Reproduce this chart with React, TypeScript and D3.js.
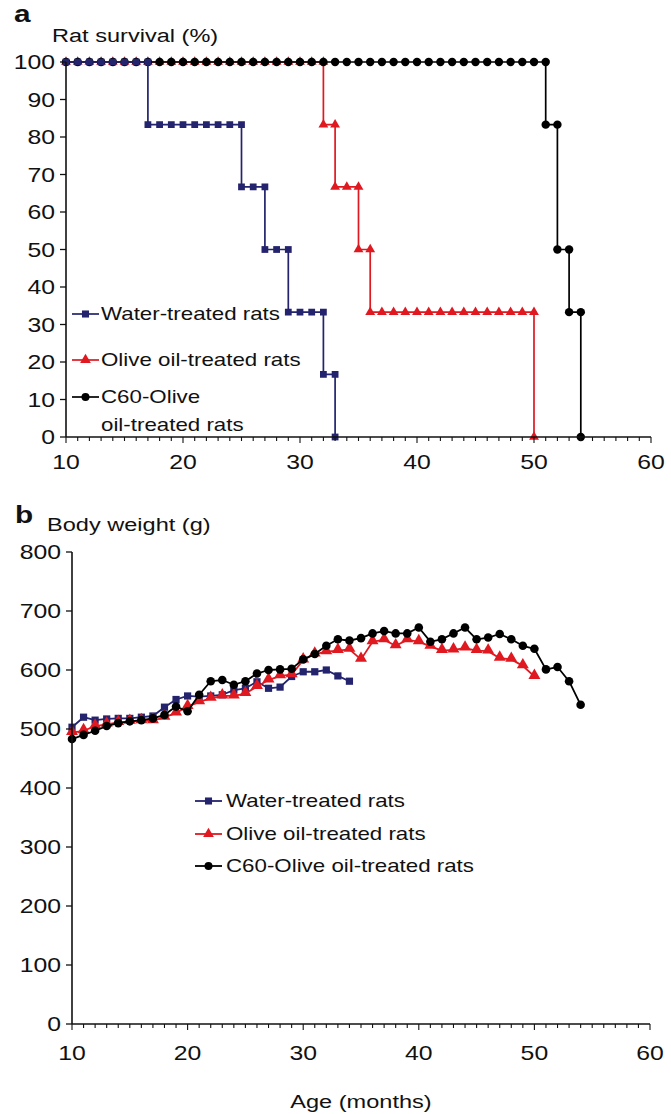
import React from "react";
import * as d3 from "d3";

// ---------- DATA ----------
// Panel a: survival (%) — step points (month, value)
const waterSurvMonths = [10, 11, 12, 13, 14, 15, 16, 17, 17, 18, 19, 20, 21, 22, 23, 24, 25, 25, 26, 27, 27, 28, 29, 29, 30, 31, 32, 32, 33, 33];
const waterSurvValues = [100, 100, 100, 100, 100, 100, 100, 100, 83.3, 83.3, 83.3, 83.3, 83.3, 83.3, 83.3, 83.3, 83.3, 66.7, 66.7, 66.7, 50, 50, 50, 33.3, 33.3, 33.3, 33.3, 16.7, 16.7, 0];

const oliveSurvMonths = [10, 11, 12, 13, 14, 15, 16, 17, 18, 19, 20, 21, 22, 23, 24, 25, 26, 27, 28, 29, 30, 31, 32, 32, 33, 33, 34, 35, 35, 36, 36, 37, 38, 39, 40, 41, 42, 43, 44, 45, 46, 47, 48, 49, 50, 50];
const oliveSurvValues = [100, 100, 100, 100, 100, 100, 100, 100, 100, 100, 100, 100, 100, 100, 100, 100, 100, 100, 100, 100, 100, 100, 100, 83.3, 83.3, 66.7, 66.7, 66.7, 50, 50, 33.3, 33.3, 33.3, 33.3, 33.3, 33.3, 33.3, 33.3, 33.3, 33.3, 33.3, 33.3, 33.3, 33.3, 33.3, 0];

const c60SurvMonths = [10, 11, 12, 13, 14, 15, 16, 17, 18, 19, 20, 21, 22, 23, 24, 25, 26, 27, 28, 29, 30, 31, 32, 33, 34, 35, 36, 37, 38, 39, 40, 41, 42, 43, 44, 45, 46, 47, 48, 49, 50, 51, 51, 52, 52, 53, 53, 54, 54];
const c60SurvValues = [100, 100, 100, 100, 100, 100, 100, 100, 100, 100, 100, 100, 100, 100, 100, 100, 100, 100, 100, 100, 100, 100, 100, 100, 100, 100, 100, 100, 100, 100, 100, 100, 100, 100, 100, 100, 100, 100, 100, 100, 100, 100, 83.3, 83.3, 50, 50, 33.3, 33.3, 0];

// Panel b: body weight (g)
const waterWeightMonths = [10, 11, 12, 13, 14, 15, 16, 17, 18, 19, 20, 21, 22, 23, 24, 25, 26, 27, 28, 29, 30, 31, 32, 33, 34];
const waterWeightValues = [503, 520, 515, 517, 518, 518, 520, 522, 537, 550, 556, 555, 556, 558, 566, 569, 580, 569, 571, 589, 597, 597, 600, 590, 581];

const oliveWeightMonths = [10, 11, 12, 13, 14, 15, 16, 17, 18, 19, 20, 21, 22, 23, 24, 25, 26, 27, 28, 29, 30, 31, 32, 33, 34, 35, 36, 37, 38, 39, 40, 41, 42, 43, 44, 45, 46, 47, 48, 49, 50];
const oliveWeightValues = [494, 497, 505, 508, 511, 513, 514, 514, 520, 527, 538, 546, 552, 556, 556, 560, 572, 583, 590, 592, 617, 627, 631, 633, 635, 618, 648, 651, 641, 651, 648, 640, 633, 634, 637, 633, 632, 620, 618, 607, 589];

const c60WeightMonths = [10, 11, 12, 13, 14, 15, 16, 17, 18, 19, 20, 21, 22, 23, 24, 25, 26, 27, 28, 29, 30, 31, 32, 33, 34, 35, 36, 37, 38, 39, 40, 41, 42, 43, 44, 45, 46, 47, 48, 49, 50, 51, 52, 53, 54];
const c60WeightValues = [483, 490, 497, 505, 510, 513, 515, 518, 524, 538, 530, 558, 581, 583, 575, 581, 594, 600, 601, 602, 618, 627, 641, 652, 650, 654, 662, 666, 662, 662, 672, 648, 652, 662, 672, 652, 655, 661, 652, 641, 636, 601, 605, 581, 541];

const seriesNames = ["Water-treated rats", "Olive oil-treated rats", "C60-Olive oil-treated rats"];
const survivalTicks = [0, 10, 20, 30, 40, 50, 60, 70, 80, 90, 100];
const weightTicks = [0, 100, 200, 300, 400, 500, 600, 700, 800];
const ageTicks = [10, 20, 30, 40, 50, 60];

// ---------- STYLE ----------
const NAVY = "#23236e";
const RED = "#e01820";
const BLACK = "#000000";
const FONT = "'Liberation Sans', Arial, Helvetica, sans-serif";
const SX = 1.24;

const zip = (xs: number[], ys: number[]) => xs.map((x, i) => [x, ys[i]] as [number, number]);

function T({ x, y, size = 18, anchor = "start", weight = "normal", children, dy }: any) {
  return (
    <text
      transform={`translate(${x},${y}) scale(${SX},1)`}
      textAnchor={anchor}
      fontSize={size}
      fontWeight={weight}
      fontFamily={FONT}
      fill="#111"
      dy={dy}
    >
      {children}
    </text>
  );
}

type Shape = "square" | "triangle" | "circle";
function symPath(shape: Shape, size: number) {
  const t = shape === "square" ? d3.symbolSquare : shape === "triangle" ? d3.symbolTriangle : d3.symbolCircle;
  return d3.symbol().type(t).size(size)()!;
}

function Series({ pts, x, y, color, shape, size, lw, dyMarker = 0 }: any) {
  const line = d3.line<[number, number]>().x((d) => x(d[0])).y((d) => y(d[1]));
  const p = symPath(shape, size);
  return (
    <g>
      <path d={line(pts)!} fill="none" stroke={color} strokeWidth={lw} strokeLinejoin="round" />
      {pts.map((d: [number, number], i: number) => (
        <path key={i} d={p} transform={`translate(${x(d[0])},${y(d[1]) + dyMarker})`} fill={color} />
      ))}
    </g>
  );
}

function XAxis({ x, y0 }: any) {
  const minor = d3.range(10, 61, 1);
  return (
    <g>
      <line x1={x(10)} x2={x(60)} y1={y0} y2={y0} stroke="#111" strokeWidth={1.6} />
      {minor.map((m) => (
        <line key={m} x1={x(m)} x2={x(m)} y1={y0} y2={y0 + (m % 10 === 0 ? 6 : 4)} stroke="#111" strokeWidth={1.1} />
      ))}
    </g>
  );
}

function YAxis({ x0, y, ticks }: any) {
  const [a, b] = y.domain();
  return (
    <g>
      <line x1={x0} x2={x0} y1={y(a)} y2={y(b)} stroke="#111" strokeWidth={1.6} />
      {ticks.map((t: number) => (
        <line key={t} x1={x0 - 6} x2={x0} y1={y(t)} y2={y(t)} stroke="#111" strokeWidth={1.3} />
      ))}
      {ticks.map((t: number) => (
        <T key={"l" + t} x={x0 - 11} y={y(t)} size={20} anchor="end" dy="0.36em">
          {t}
        </T>
      ))}
    </g>
  );
}

export default function App() {
  // Panel a scales
  const xa = d3.scaleLinear().domain([10, 60]).range([66, 651]);
  const ya = d3.scaleLinear().domain([0, 100]).range([437, 62]);
  // Panel b scales
  const xb = d3.scaleLinear().domain([10, 60]).range([72, 650]);
  const yb = d3.scaleLinear().domain([0, 800]).range([1024, 552]);

  const legA = [
    { name: seriesNames[0], color: NAVY, shape: "square", y: 314 },
    { name: seriesNames[1], color: RED, shape: "triangle", y: 360 },
  ];
  const legB = [
    { name: seriesNames[0], color: NAVY, shape: "square", y: 801 },
    { name: seriesNames[1], color: RED, shape: "triangle", y: 834 },
    { name: seriesNames[2], color: BLACK, shape: "circle", y: 866 },
  ];
  const symSize: any = { square: 50, triangle: 50, circle: 50 };

  return (
    <svg width={671} height={1114} style={{ position: "absolute", left: 0, top: 0, background: "#fff" }}>
      <rect width={671} height={1114} fill="#fff" />
      {/* ---------- Panel a ---------- */}
      <T x={14} y={22} size={24} weight="bold">a</T>
      <T x={52} y={42} size={19}>Rat survival (%)</T>

      <Series pts={zip(oliveSurvMonths, oliveSurvValues)} x={xa} y={ya} color={RED} shape="triangle" size={42} lw={1.7} />
      <Series pts={zip(c60SurvMonths, c60SurvValues)} x={xa} y={ya} color={BLACK} shape="circle" size={56} lw={1.7} />
      <Series pts={zip(waterSurvMonths, waterSurvValues)} x={xa} y={ya} color={NAVY} shape="square" size={46} lw={1.7} />

      <YAxis x0={xa(10)} y={ya} ticks={survivalTicks} />
      <XAxis x={xa} y0={ya(0)} />
      {ageTicks.map((t) => (
        <T key={"xa" + t} x={xa(t)} y={469} size={20} anchor="middle">{t}</T>
      ))}

      {legA.map((l) => (
        <g key={l.name}>
          <line x1={72} x2={99} y1={l.y} y2={l.y} stroke={l.color} strokeWidth={1.7} />
          <path d={symPath(l.shape as Shape, symSize[l.shape])} transform={`translate(85.5,${l.y})`} fill={l.color} />
          <T x={101} y={l.y} size={18} dy="0.36em">{l.name}</T>
        </g>
      ))}
      <g>
        <line x1={72} x2={99} y1={397} y2={397} stroke={BLACK} strokeWidth={1.7} />
        <path d={symPath("circle", symSize.circle)} transform="translate(85.5,397)" fill={BLACK} />
        <T x={101} y={397} size={18} dy="0.36em">C60-Olive</T>
        <T x={101} y={425} size={18} dy="0.36em">oil-treated rats</T>
      </g>

      {/* ---------- Panel b ---------- */}
      <T x={15} y={523} size={24} weight="bold">b</T>
      <T x={47} y={531} size={19}>Body weight (g)</T>

      <Series pts={zip(waterWeightMonths, waterWeightValues)} x={xb} y={yb} color={NAVY} shape="square" size={52} lw={1.8} />
      <Series pts={zip(oliveWeightMonths, oliveWeightValues)} x={xb} y={yb} color={RED} shape="triangle" size={62} lw={1.8} dyMarker={-1} />
      <Series pts={zip(c60WeightMonths, c60WeightValues)} x={xb} y={yb} color={BLACK} shape="circle" size={58} lw={1.8} />

      <YAxis x0={xb(10)} y={yb} ticks={weightTicks} />
      <XAxis x={xb} y0={yb(0)} />
      {ageTicks.map((t) => (
        <T key={"xb" + t} x={xb(t)} y={1060} size={20} anchor="middle">{t}</T>
      ))}
      <T x={361} y={1108} size={19} anchor="middle">Age (months)</T>

      {legB.map((l) => (
        <g key={l.name}>
          <line x1={195} x2={222} y1={l.y} y2={l.y} stroke={l.color} strokeWidth={1.8} />
          <path d={symPath(l.shape as Shape, symSize[l.shape])} transform={`translate(208.5,${l.y})`} fill={l.color} />
          <T x={226} y={l.y} size={18} dy="0.36em">{l.name}</T>
        </g>
      ))}
    </svg>
  );
}
